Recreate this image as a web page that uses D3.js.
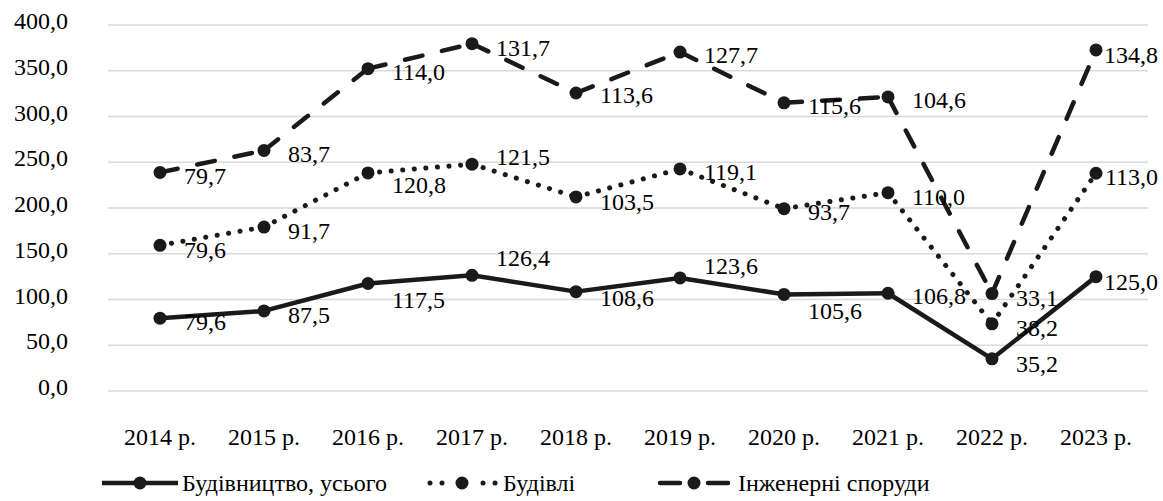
<!DOCTYPE html>
<html><head><meta charset="utf-8"><script src="https://cdn.jsdelivr.net/npm/d3@7"></script></head>
<body style="margin:0">
<svg id="chart" width="1163" height="501"></svg>
<script>
// ---- data ----
const years = ["2014 р.", "2015 р.", "2016 р.", "2017 р.", "2018 р.", "2019 р.", "2020 р.", "2021 р.", "2022 р.", "2023 р."];
const seriesNames = ["Будівництво, усього", "Будівлі", "Інженерні споруди"];
const totalValues = [79.6, 87.5, 117.5, 126.4, 108.6, 123.6, 105.6, 106.8, 35.2, 125.0];
const buildingValues = [79.6, 91.7, 120.8, 121.5, 103.5, 119.1, 93.7, 110.0, 38.2, 113.0];
const engineeringValues = [79.7, 83.7, 114.0, 131.7, 113.6, 127.7, 115.6, 104.6, 33.1, 134.8];
const yTicks = [0, 50, 100, 150, 200, 250, 300, 350, 400];

// ---- layout (label vertical nudges, px) ----
const labelNudge = [
  [4, 4, 17, -17, 6, -12, 17, 3, 5, 5],
  [5, 4, 12, -7, 5, 3, 3, 4, 4, 4],
  [4, 4, 3, 4, 2, 3, 3, 3, 4, 5]
];
const dashes = [null, "0.1,11.5", "18,20"];

const svg = d3.select("#chart");
const plot = { left: 108, right: 1148, top: 25, bottom: 391 };
const ink = "#1a1a1a";
const styleText = sel => sel.style("font-family", "'Liberation Serif'").style("font-size", "24px");

const x = d3.scaleBand().domain(years).range([plot.left, plot.right]);
const y = d3.scaleLinear().domain([0, 400]).range([plot.bottom, plot.top]);
const cx = d => x(d) + x.bandwidth() / 2;
const fmt = v => d3.format(".1f")(v).replace(".", ",");

const raw = [totalValues, buildingValues, engineeringValues];
const stacked = [];
raw.forEach((arr, i) => {
  stacked.push(arr.map((v, j) => v + (i > 0 ? stacked[i - 1][j] : 0)));
});

// gridlines
svg.append("g").selectAll("line").data(yTicks).join("line")
  .attr("x1", plot.left).attr("x2", plot.right)
  .attr("y1", d => y(d)).attr("y2", d => y(d))
  .attr("stroke", "#d9d9d9").attr("stroke-width", 1.5);

// y axis labels
svg.append("g").selectAll("text").data(yTicks).join("text")
  .call(styleText)
  .attr("x", 68).attr("y", d => y(d) + 4)
  .attr("text-anchor", "end")
  .text(fmt);

// x axis labels
svg.append("g").selectAll("text").data(years).join("text")
  .call(styleText)
  .attr("x", d => cx(d)).attr("y", 445)
  .attr("text-anchor", "middle")
  .text(d => d);

const line = d3.line();
const lineW = 4.5, markerR = 6.5;

stacked.forEach((vals, si) => {
  const g = svg.append("g");
  for (let j = 0; j < vals.length - 1; j++) {
    g.append("path")
      .attr("d", line([[cx(years[j]), y(vals[j])], [cx(years[j + 1]), y(vals[j + 1])]]))
      .attr("fill", "none").attr("stroke", ink)
      .attr("stroke-width", si === 1 ? 5 : lineW)
      .attr("stroke-linecap", "round")
      .attr("stroke-dasharray", dashes[si]);
  }
  g.selectAll("circle").data(vals).join("circle")
    .attr("cx", (d, j) => cx(years[j])).attr("cy", d => y(d))
    .attr("r", markerR).attr("fill", ink);
});

// data labels (last category is right-aligned to the chart edge)
stacked.forEach((vals, si) => {
  const g = svg.append("g");
  g.selectAll("text").data(vals).join("text")
    .call(styleText)
    .attr("x", (v, j) => j === vals.length - 1 ? 1158 : cx(years[j]) + 24)
    .attr("text-anchor", (v, j) => j === vals.length - 1 ? "end" : "start")
    .attr("y", (v, j) => y(v) + labelNudge[si][j] + 8)
    .text((v, j) => fmt(raw[si][j]));
});

// legend
const legendY = 483;
const legendItems = [
  { sample: [102, 178], marker: 140, text: 182 },
  { sample: [428, 498], marker: 462, text: 503 },
  { sample: [660, 728], marker: 694, text: 738 }
];
legendItems.forEach((it, si) => {
  const g = svg.append("g");
  if (si === 1) {
    [430, 442, 483, 495].forEach(px => g.append("circle").attr("cx", px).attr("cy", legendY).attr("r", 2.5).attr("fill", ink));
  } else if (si === 2) {
    [[660, 680], [708, 728]].forEach(s => g.append("path")
      .attr("d", line([[s[0], legendY], [s[1], legendY]]))
      .attr("stroke", ink).attr("stroke-width", lineW).attr("stroke-linecap", "round"));
  } else {
    g.append("path").attr("d", line([[it.sample[0], legendY], [it.sample[1], legendY]]))
      .attr("stroke", ink).attr("stroke-width", lineW);
  }
  g.append("circle").attr("cx", it.marker).attr("cy", legendY).attr("r", markerR).attr("fill", ink);
  g.append("text").call(styleText).attr("x", it.text).attr("y", legendY + 8).text(seriesNames[si]);
});
</script>
</body></html>
